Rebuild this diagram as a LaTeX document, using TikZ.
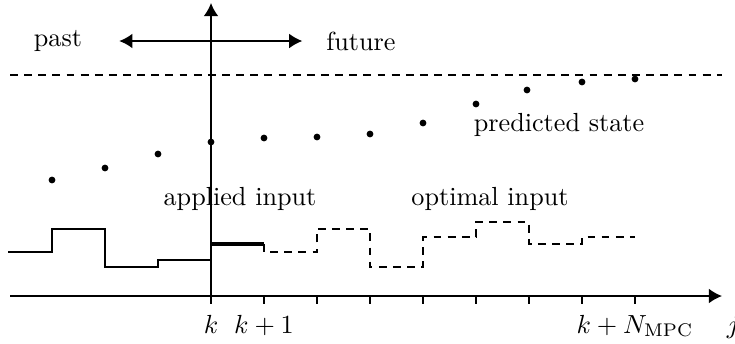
\documentclass[tikz,border=0pt]{standalone}
\usetikzlibrary{arrows.meta}
\begin{document}
\begin{tikzpicture}[x=0.382pt, y=-0.382pt,
  axis/.style={-{Latex[length=5pt,width=5.6pt]}, line width=0.6pt},
  lbl/.style={anchor=base, inner sep=0pt},
  word/.style={inner sep=0pt},
  dot/.style={circle, fill, inner sep=0pt, minimum size=2.6pt},
  tick/.style={line width=0.4pt},
  ustep/.style={line width=0.4pt},
  ufuture/.style={line width=0.4pt, dash pattern=on 3pt off 2.4pt}]
\useasboundingbox (0,0) rectangle (735,343);
% axes
\coordinate (xstart) at (10,296);
\coordinate (xend) at (722,296);
\coordinate (orig) at (211,296);
\coordinate (ytop) at (211,3);
\draw[axis] (xstart) -- (xend);
\draw[axis] (orig) -- (ytop);
\foreach \i in {0,...,8}
  \draw[tick] (211+53*\i,296) -- ++(0,8);
\node[lbl] (k) at (211,333) {$k$};
\node[lbl] (k1) at (264,333) {$k+1$};
\node[lbl] (kN) at (635,333) {$k+N_{\mathrm{MPC}}$};
\node[lbl] (j) at (733,333) {$j$};
% past / future
\node[word] (past) at (58,41) {past};
\node[word] (future) at (361,41) {future};
\draw[{Latex[length=5pt,width=5.6pt]}-{Latex[length=5pt,width=5.6pt]}, line width=0.6pt,
  shorten <=14pt, shorten >=9pt] (past.east) -- (future.west);
% reference
\coordinate (refa) at (10,75);
\coordinate (refb) at (722,75);
\draw[ufuture] (refa) -- (refb);
% predicted state
\foreach \x/\y [count=\n] in {52/180,105/168,158/154,211/142,264/138,317/137,
                              370/134,423/123,476/104,527/90,582/82,635/79}
  \node[dot] (s\n) at (\x,\y) {};
\node[lbl] (pred) at (559,131) {predicted state};
% inputs
\draw[ustep] (8,252) -- (52,252) -- (52,229) -- (105,229) -- (105,267)
  -- (158,267) -- (158,260) -- (211,260);
\draw[line width=1.6pt] (211,244) -- (264,244);
\draw[ufuture] (264,244) -- (264,252) -- (317,252) -- (317,229) -- (370,229)
  -- (370,267) -- (423,267) -- (423,237) -- (476,237) -- (476,222)
  -- (529,222) -- (529,244) -- (582,244) -- (582,237) -- (635,237);
\node[lbl] (applied) at (240,205) {applied input};
\node[lbl] (optimal) at (490,205) {optimal input};
\end{tikzpicture}
\end{document}
